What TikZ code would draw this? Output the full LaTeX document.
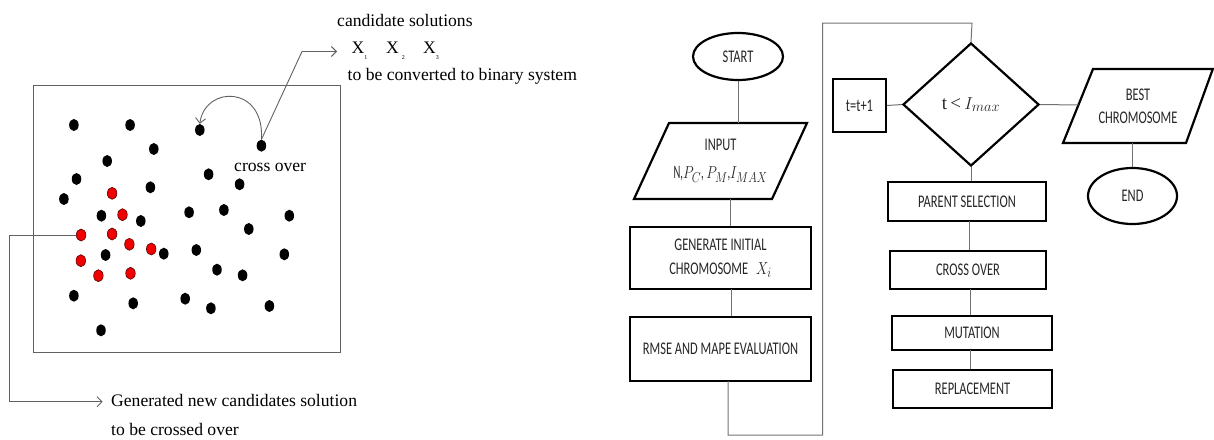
\documentclass[tikz,border=0pt]{standalone}
\usepackage{fontspec}
\usepackage{graphicx}
\setmainfont{Liberation Serif}
\newfontfamily\calib{Carlito}[FakeStretch=0.7]
\usetikzlibrary{shapes.geometric,arrows.meta}
\definecolor{lgray}{gray}{0.38}
\definecolor{dotred}{RGB}{240,0,0}
\tikzset{
  blackdot/.style={ellipse, fill=black, minimum width=9.5pt, minimum height=12pt, inner sep=0pt},
  reddot/.style={ellipse, fill=dotred, draw=red!35!black, line width=0.6pt, minimum width=9.5pt, minimum height=12pt, inner sep=0pt},
  thinline/.style={draw=lgray, line width=0.9pt},
  barb/.style={-{Straight Barb[length=5pt,width=10pt,line width=0.9pt]}},
  seriftext/.style={font=\fontsize{17.6}{20}\selectfont, inner sep=0pt},
  conn/.style={draw=black!55, line width=1pt},
  fbox/.style={draw=black, line width=2.2pt, rectangle, inner sep=0pt, align=center, text=black!85, font=\calib\fontsize{17.8}{24}\selectfont},
  ftext/.style={inner sep=0pt, align=center, text=black!85, font=\calib\fontsize{17.8}{23}\selectfont},
  fshape/.style={draw=black, line width=2.2pt},
}
\begin{document}
\begin{tikzpicture}[x=1pt,y=-1pt]
\useasboundingbox (0,0) rectangle (1214,439);
% ---------------- left panel ----------------
\draw[thinline] (33.7,85) rectangle (340.6,352);
\foreach \n/\x/\y in {a/73.9/125, b/130.1/125, c/199.8/130, d/153.8/149, e/107.2/161,
  f/208.6/174.3, g/76.5/179, h/239.6/184.3, i/150.4/187.3, j/63.9/199,
  k/101.4/215.7, l/140.8/221, m/189.1/212.3, n/223.9/210, o/289.3/215.7,
  p/248.8/229, q/163.8/253.7, r/196.3/250, s/284.3/254.3, t/105.6/255,
  u/217/269.7, v/242.6/275.3, w/73.9/295.7, x/133.2/303.3, y/185.2/298.7,
  z/210.9/308.3, aa/269.4/306, ab/101/330.3}
  \node[blackdot] (d\n) at (\x,\y) {};
\node[blackdot] (dcross) at (261.4,145.7) {};
\foreach \n/\x/\y in {1/112.1/193.3, 2/122.5/214.7, 4/112.1/234, 5/129.4/244.3,
  6/151.2/249, 7/80.8/260.7, 8/98.4/275.7, 9/130.5/273.3}
  \node[reddot] (r\n) at (\x,\y) {};
\node[reddot] (rnew) at (81.1,235) {};
% texts
\node[seriftext, anchor=base west] (cand) at (337,26) {candidate solutions};
\node[seriftext, anchor=base west] (x1) at (351.5,53) {X\raisebox{-6pt}{\fontsize{6}{6}\selectfont 1}};
\node[seriftext, anchor=base west] (x2) at (386,53) {X\hspace{3pt}\raisebox{-6pt}{\fontsize{6}{6}\selectfont 2}};
\node[seriftext, anchor=base west] (x3) at (423,53) {X\raisebox{-6pt}{\fontsize{6}{6}\selectfont 3}};
\node[seriftext, anchor=base west] (conv) at (347.5,80) {to be converted to binary system};
\node[seriftext, anchor=base west] (crossover) at (234,171) {cross over};
\node[seriftext, anchor=base west] (gen1) at (111,406) {Generated new candidates solution};
\node[seriftext, anchor=base west] (gen2) at (111,435) {to be crossed over};
% connectors
\coordinate (k1) at (302,51.5);
\coordinate (t1) at (337,51.5);
\draw[thinline, barb] (dcross.north) -- (k1) -- (t1);
\draw[thinline, barb] (dcross.north) .. controls (265,85) and (205,85) .. (dc.north);
\coordinate (b1) at (9.6,235);
\coordinate (b2) at (9.6,401.7);
\coordinate (b3) at (102.6,401.7);
\draw[thinline, barb] (rnew.west) -- (b1) -- (b2) -- (b3);
% ---------------- flowchart ----------------
\node[ellipse, fshape, minimum width=90pt, minimum height=47pt, inner sep=0pt, text=black!85, font=\calib\fontsize{17.8}{18}\selectfont] (start) at (738,56.5) {START};
% INPUT parallelogram
\draw[fshape] (669,123) -- (807,123) -- (772,199) -- (634,199) -- cycle;
\node[ftext, minimum height=76pt, font=\calib\fontsize{17.8}{28}\selectfont] (input) at (720.5,161) {INPUT\\\scalebox{0.8}[1]{\fontsize{19}{20}\selectfont N,$P_C$,\,$P_M$,$I_{MAX}$}};
\node[fbox, minimum width=181pt, minimum height=62pt] (gen) at (720.5,258) {GENERATE INITIAL\\CHROMOSOME\hspace{8pt}\scalebox{0.8}[1]{\fontsize{19}{20}\selectfont $X_i$}};
\node[fbox, minimum width=181pt, minimum height=64pt] (rmse) at (720.5,349) {RMSE AND MAPE EVALUATION};
\node[diamond, fshape, minimum width=136pt, minimum height=123pt, inner sep=0pt, text=black!85, font=\fontsize{19}{20}\selectfont] (cond) at (971,104.5) {t\,<\,$I_{max}$};
\node[fbox, minimum width=53pt, minimum height=53pt] (inc) at (859.5,105.5) {t=t+1};
\node[fbox, minimum width=158pt, minimum height=39pt] (parent) at (967,201.5) {PARENT SELECTION};
\node[fbox, minimum width=156pt, minimum height=38pt] (cross) at (968,270) {CROSS OVER};
\node[fbox, minimum width=160pt, minimum height=34pt] (mut) at (972,333) {MUTATION};
\node[fbox, minimum width=159pt, minimum height=38pt] (repl) at (972.5,389) {REPLACEMENT};
% BEST parallelogram
\draw[fshape] (1093,69) -- (1212.8,69) -- (1186,143) -- (1063,143) -- cycle;
\node[ftext, minimum height=74pt] (best) at (1138,106) {BEST\\CHROMOSOME};
\node[ellipse, fshape, minimum width=89pt, minimum height=56pt, inner sep=0pt, text=black!85, font=\calib\fontsize{17.8}{18}\selectfont] (end) at (1132.5,196) {END};
% connectors
\draw[conn] (start.south) -- (start.south |- input.north);
\coordinate (i1) at (730,199);
\draw[conn] (i1) -- (i1 |- gen.north);
\coordinate (g1) at (731,289);
\draw[conn] (g1) -- (g1 |- rmse.north);
\coordinate (l0) at (728,381);
\coordinate (l1) at (728,435);
\coordinate (l2) at (822.5,435);
\coordinate (l3) at (822.5,23);
\coordinate (l4) at (972,23);
\draw[conn] (l0) -- (l1) -- (l2) -- (l3) -- (l4) -- (cond.north);
\draw[conn] (inc.east) -- (cond.west);
\coordinate (bl) at (1078.4,105);
\draw[conn] (cond.east) -- (bl);
\coordinate (bb) at (1132.5,143);
\draw[conn] (bb) -- (end.north);
\draw[conn] (cond.south) -- (cond.south |- parent.north);
\coordinate (p1) at (969,221);
\draw[conn] (p1) -- (p1 |- cross.north);
\coordinate (c1) at (970,289);
\draw[conn] (c1) -- (c1 |- mut.north);
\coordinate (m1) at (970,350);
\draw[conn] (m1) -- (m1 |- repl.north);
\end{tikzpicture}
\end{document}
